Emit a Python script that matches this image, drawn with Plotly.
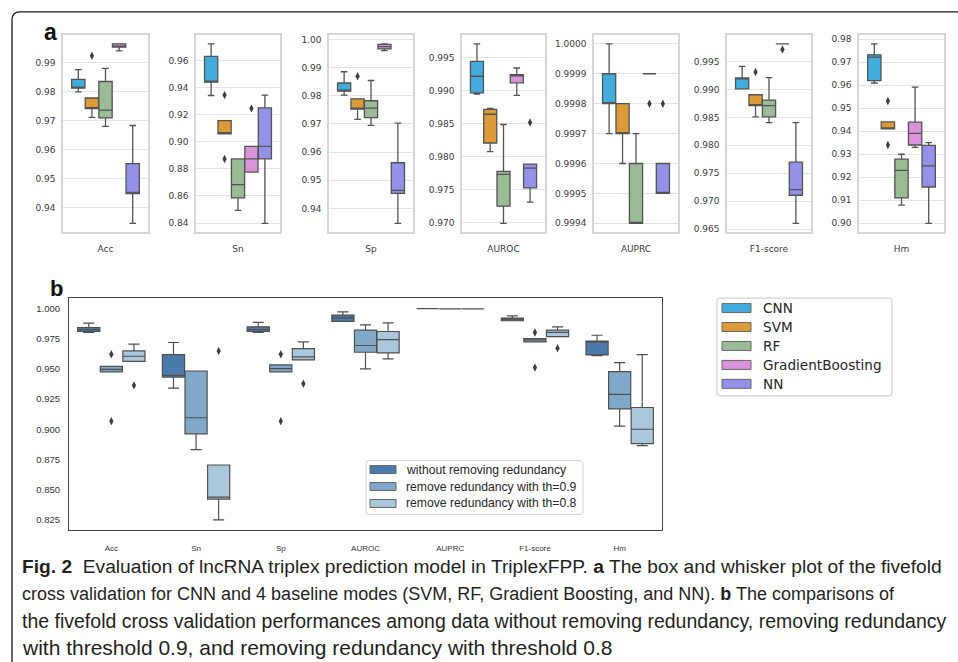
import plotly.graph_objects as go

W, H = 958, 662

metrics = ["Acc", "Sn", "Sp", "AUROC", "AUPRC", "F1-score", "Hm"]
models = ["CNN", "SVM", "RF", "GradientBoosting", "NN"]

# ---- panel a: five-number summaries [lower whisker, q1, median, q3, upper whisker] per metric
cnn_stats = [[0.9800, 0.9813, 0.9816, 0.9843, 0.9877],
             [0.9341, 0.9439, 0.9445, 0.9629, 0.9722],
             [0.9802, 0.9816, 0.9820, 0.9845, 0.9885],
             [0.98945, 0.98965, 0.99215, 0.9944, 0.99705],
             [0.9997, 0.9998, 0.9998, 0.9999, 1.0000],
             [0.9901, 0.9901, 0.9920, 0.99205, 0.9941],
             [0.9610, 0.9620, 0.9722, 0.97325, 0.9780]]
cnn_out = [[], [], [], [], [], [], []]

svm_stats = [[0.9712, 0.9742, 0.9746, 0.9779, 0.9779],
             [0.9059, 0.9059, 0.9060, 0.9156, 0.9156],
             [0.9716, 0.9752, 0.9756, 0.9789, 0.9789],
             [0.98075, 0.98205, 0.9864, 0.98715, 0.9873],
             [0.9996, 0.9997, 0.9997, 0.9998, 0.9998],
             [0.98508, 0.98709, 0.9872, 0.98904, 0.98904],
             [0.94107, 0.94107, 0.9415, 0.94409, 0.94409]]
svm_out = [[0.9925], [0.9344, 0.8873], [0.9869], [], [], [0.99311], [0.95314, 0.93404]]

rf_stats = [[0.9681, 0.9710, 0.9737, 0.9836, 0.9881],
            [0.8493, 0.8585, 0.8683, 0.8873, 0.8873],
            [0.9695, 0.9722, 0.9756, 0.9782, 0.9854],
            [0.9699, 0.9725, 0.9773, 0.97775, 0.98485],
            [0.9994, 0.9994, 0.9994, 0.9996, 0.9997],
            [0.98407, 0.98508, 0.98709, 0.98809, 0.99211],
            [0.9079, 0.91105, 0.92298, 0.92786, 0.93002]]
rf_out = [[], [], [], [], [], [], []]

gb_stats = [[0.9942, 0.9955, 0.9958, 0.9966, 0.9966],
            [0.8776, 0.8776, 0.8873, 0.8966, 0.8966],
            [0.9960, 0.9966, 0.9974, 0.9982, 0.9984],
            [0.98925, 0.99115, 0.9922, 0.9924, 0.9934],
            [0.9999, 0.9999, 0.9999, 0.9999, 0.9999],
            [0.99813, 0.99813, 0.99813, 0.99813, 0.99813],
            [0.93303, 0.93404, 0.93906, 0.94395, 0.95917]]
gb_out = [[], [0.9246], [], [], [0.9998], [0.99713], []]

nn_stats = [[0.9346, 0.9449, 0.9453, 0.9552, 0.9684],
            [0.8398, 0.8873, 0.8966, 0.9249, 0.9344],
            [0.9347, 0.9453, 0.9464, 0.9562, 0.9703],
            [0.9731, 0.97525, 0.97825, 0.97885, 0.97885],
            [0.9995, 0.9995, 0.9995, 0.9996, 0.9996],
            [0.96606, 0.97108, 0.97209, 0.97699, 0.98407],
            [0.9000, 0.91579, 0.92499, 0.93389, 0.93504]]
nn_out = [[], [], [], [0.98515], [0.9998], [], []]

# ---- panel b: CNN with / without redundancy removal
b_sets = ["without removing redundancy", "remove redundancy with th=0.9", "remove redundancy with th=0.8"]
full_stats = [[0.9801, 0.9809, 0.9825, 0.9842, 0.9878],
              [0.9341, 0.9432, 0.9445, 0.9618, 0.9718],
              [0.9801, 0.9809, 0.9825, 0.9848, 0.9884],
              [0.9892, 0.9892, 0.9922, 0.9945, 0.9972],
              [0.9998, 0.9998, 0.9998, 0.9998, 0.9998],
              [0.9898, 0.9898, 0.9920, 0.9920, 0.9939],
              [0.9610, 0.9615, 0.9722, 0.9729, 0.9778]]
full_out = [[], [], [], [], [], [], []]
th09_stats = [[0.9474, 0.9474, 0.9496, 0.9521, 0.9521],
              [0.8831, 0.8962, 0.9095, 0.9482, 0.9482],
              [0.9474, 0.9474, 0.9502, 0.9532, 0.9532],
              [0.9499, 0.9637, 0.9693, 0.9820, 0.9864],
              [0.9997, 0.9997, 0.9997, 0.9997, 0.9997],
              [0.9723, 0.9723, 0.9740, 0.9751, 0.9751],
              [0.9025, 0.9169, 0.9288, 0.9477, 0.9551]]
th09_out = [[0.9621, 0.9067], [], [0.9621, 0.9067], [], [], [0.9801, 0.9510], []]
th08_stats = [[0.9562, 0.9562, 0.9604, 0.9648, 0.9704],
              [0.8250, 0.8422, 0.8438, 0.8704, 0.8704],
              [0.9574, 0.9574, 0.9599, 0.9668, 0.9723],
              [0.9582, 0.9632, 0.9742, 0.9809, 0.9881],
              [0.9997, 0.9997, 0.9997, 0.9997, 0.9997],
              [0.9767, 0.9767, 0.9801, 0.9820, 0.9848],
              [0.8865, 0.8881, 0.9000, 0.9180, 0.9618]]
th08_out = [[0.9363], [0.9648], [0.9377], [], [], [0.9670], []]

# ---- panel a tick settings
a_tick0 = [0.94, 0.84, 0.94, 0.970, 0.9994, 0.965, 0.90]
a_dtick = [0.01, 0.02, 0.01, 0.005, 0.0001, 0.005, 0.01]
a_fmt = [".2f", ".2f", ".2f", ".3f", ".4f", ".3f", ".2f"]

# ---- styles
a_colors = ["#42ACDD", "#DC9B38", "#9BBA96", "#DA92DB", "#9591E8"]
b_colors = ["#4A7BAA", "#7FA8C9", "#AAC7DB"]
edge = "#535353"
a_boxes_px = [(63, 148), (196, 280), (329, 413), (462, 545), (594, 678), (727, 811), (859, 944)]
a_top, a_bot = 35, 233
b_box = (69, 662, 299, 532)


def px(x):
    return x / W


def py(y):
    return 1 - y / H


def padded(vals):
    lo, hi = min(vals), max(vals)
    d = (hi - lo) * 0.05
    return [lo - d, hi + d]


fig = go.Figure()
layout = dict()

a_all_stats = [cnn_stats, svm_stats, rf_stats, gb_stats, nn_stats]
a_all_out = [cnn_out, svm_out, rf_out, gb_out, nn_out]
na = len(models)
bw = 0.8 / na

for m, metric in enumerate(metrics):
    ax = m + 1
    xs = "x" if ax == 1 else f"x{ax}"
    ys = "y" if ax == 1 else f"y{ax}"
    vals = []
    for k in range(na):
        s = a_all_stats[k][m]
        pos = -0.4 + bw * (k + 0.5)
        vals += s + a_all_out[k][m]
        fig.add_trace(go.Box(x=[pos], lowerfence=[s[0]], q1=[s[1]], median=[s[2]], q3=[s[3]],
                             upperfence=[s[4]], width=bw * 0.98, fillcolor=a_colors[k],
                             line=dict(color=edge, width=1.3), whiskerwidth=0.5,
                             boxpoints=False, name=models[k], showlegend=False,
                             xaxis=xs, yaxis=ys))
        if a_all_out[k][m]:
            fig.add_trace(go.Scatter(x=[pos] * len(a_all_out[k][m]), y=a_all_out[k][m], mode="markers",
                                     marker=dict(symbol="diamond-tall", size=6, color="#3d3d3d"),
                                     showlegend=False, xaxis=xs, yaxis=ys))
    x0, x1 = a_boxes_px[m]
    kx = "xaxis" if ax == 1 else f"xaxis{ax}"
    ky = "yaxis" if ax == 1 else f"yaxis{ax}"
    layout[kx] = dict(domain=[px(x0), px(x1)], range=[-0.5, 0.5], anchor=ys,
                      tickvals=[0], ticktext=[metric], showgrid=False, zeroline=False,
                      showline=True, mirror=True, linecolor="#d6d6d6", linewidth=1.5,
                      ticks="", ticklabelstandoff=7,
                      tickfont=dict(family="DejaVu Sans", size=9, color="#3a3a3a"))
    layout[ky] = dict(domain=[py(a_bot), py(a_top)], range=padded(vals), anchor=xs,
                      tick0=a_tick0[m], dtick=a_dtick[m], tickformat=a_fmt[m],
                      showgrid=True, gridcolor="#e4e4e4", gridwidth=1.2, zeroline=False,
                      showline=True, mirror=True, linecolor="#d6d6d6", linewidth=1.5,
                      ticks="", ticklabelstandoff=4,
                      tickfont=dict(family="DejaVu Sans", size=9, color="#3a3a3a"))

# ---- panel b
b_all_stats = [full_stats, th09_stats, th08_stats]
b_all_out = [full_out, th09_out, th08_out]
nb = len(b_sets)
bwb = 0.8 / nb
bvals = []
for m, metric in enumerate(metrics):
    for k in range(nb):
        s = b_all_stats[k][m]
        pos = m - 0.4 + bwb * (k + 0.5)
        bvals += s + b_all_out[k][m]
        fig.add_trace(go.Box(x=[pos], lowerfence=[s[0]], q1=[s[1]], median=[s[2]], q3=[s[3]],
                             upperfence=[s[4]], width=bwb * 0.98, fillcolor=b_colors[k],
                             line=dict(color="#4f4f4f", width=1.2), whiskerwidth=0.5,
                             boxpoints=False, name=b_sets[k], showlegend=False,
                             xaxis="x8", yaxis="y8"))
        if b_all_out[k][m]:
            fig.add_trace(go.Scatter(x=[pos] * len(b_all_out[k][m]), y=b_all_out[k][m], mode="markers",
                                     marker=dict(symbol="diamond-tall", size=6, color="#3d3d3d"),
                                     showlegend=False, xaxis="x8", yaxis="y8"))

bx0, bx1, by0, by1 = b_box
layout["xaxis8"] = dict(domain=[px(bx0), px(bx1)], range=[-0.5, len(metrics) - 0.5], anchor="y8",
                        tickvals=list(range(len(metrics))), ticktext=metrics, showgrid=False,
                        zeroline=False, showline=True, mirror=True, linecolor="#444444", linewidth=1.2,
                        ticks="", ticklabelstandoff=10,
                        tickfont=dict(family="Liberation Sans, Arial", size=8, color="#333333"))
layout["yaxis8"] = dict(domain=[py(by1), py(by0)], range=padded(bvals), anchor="x8",
                        tick0=0.825, dtick=0.025, tickformat=".3f", showgrid=False, zeroline=False,
                        showline=True, mirror=True, linecolor="#444444", linewidth=1.2,
                        ticks="", ticklabelstandoff=6,
                        tickfont=dict(family="Liberation Sans, Arial", size=9.5, color="#333333"))

shapes = []
annotations = []

# outer rounded frame (top + left)
r = 8
fx, fy = 12, 12
shapes.append(dict(type="path", xref="paper", yref="paper",
                   path=f"M {px(fx)},{py(H + 2)} L {px(fx)},{py(fy + r)} Q {px(fx)},{py(fy)} {px(fx + r)},{py(fy)} L {px(W + 2)},{py(fy)}",
                   line=dict(color="#1a1a1a", width=1.3)))

# panel letters
annotations.append(dict(x=px(42), y=py(32), text="<b>a</b>", showarrow=False, xref="paper", yref="paper",
                        yanchor="middle",
                        font=dict(family="Liberation Sans, Arial", size=23, color="#111111")))
annotations.append(dict(x=px(47.5), y=py(289), text="<b>b</b>", showarrow=False, xref="paper", yref="paper",
                        yanchor="middle",
                        font=dict(family="Liberation Sans, Arial", size=22, color="#111111")))


def rounded_rect(x0, y0, x1, y1, rr):
    return (f"M {px(x0 + rr)},{py(y0)} L {px(x1 - rr)},{py(y0)} Q {px(x1)},{py(y0)} {px(x1)},{py(y0 + rr)} "
            f"L {px(x1)},{py(y1 - rr)} Q {px(x1)},{py(y1)} {px(x1 - rr)},{py(y1)} "
            f"L {px(x0 + rr)},{py(y1)} Q {px(x0)},{py(y1)} {px(x0)},{py(y1 - rr)} "
            f"L {px(x0)},{py(y0 + rr)} Q {px(x0)},{py(y0)} {px(x0 + rr)},{py(y0)} Z")


# legend for panel a models
shapes.append(dict(type="path", xref="paper", yref="paper", path=rounded_rect(717, 299, 892, 397, 3),
                   line=dict(color="#d4d4d4", width=1.2), fillcolor="white"))
for k, name in enumerate(models):
    yc = 309 + k * 19
    shapes.append(dict(type="rect", xref="paper", yref="paper", x0=px(722), x1=px(751),
                       y0=py(yc + 4.5), y1=py(yc - 4.5), fillcolor=a_colors[k],
                       line=dict(color="#666666", width=1)))
    annotations.append(dict(x=px(761), y=py(yc), text=name, showarrow=False, xref="paper", yref="paper",
                            xanchor="left", yanchor="middle",
                            font=dict(family="DejaVu Sans", size=13.6, color="#262626")))

# legend for panel b sets
shapes.append(dict(type="path", xref="paper", yref="paper", path=rounded_rect(366, 462, 583, 516, 3),
                   line=dict(color="#d4d4d4", width=1), fillcolor="white"))
for k, name in enumerate(b_sets):
    yc = 471 + k * 17
    shapes.append(dict(type="rect", xref="paper", yref="paper", x0=px(370), x1=px(396),
                       y0=py(yc + 4), y1=py(yc - 4), fillcolor=b_colors[k],
                       line=dict(color="#666666", width=1)))
    annotations.append(dict(x=px(404), y=py(yc), text=name, showarrow=False, xref="paper", yref="paper",
                            xanchor="left", yanchor="middle",
                            font=dict(family="Liberation Sans, Arial", size=12.2, color="#262626")))

# caption
caption = [
    "<b>Fig. 2</b>&nbsp; Evaluation of lncRNA triplex prediction model in TriplexFPP. <b>a</b> The box and whisker plot of the fivefold",
    "cross validation for CNN and 4 baseline modes (SVM, RF, Gradient Boosting, and NN). <b>b</b> The comparisons of",
    "the fivefold cross validation performances among data without removing redundancy, removing redundancy",
    "with threshold 0.9, and removing redundancy with threshold 0.8",
]
cap_sizes = [19.2, 18.0, 19.5, 21.0]
for i, line in enumerate(caption):
    annotations.append(dict(x=px(20), y=py(568 + i * 27.3), text=line, showarrow=False, xref="paper",
                            yref="paper", xanchor="left", yanchor="middle",
                            font=dict(family="Liberation Sans, Arial", size=cap_sizes[i], color="#231f20")))

fig.update_layout(width=W, height=H, autosize=False, margin=dict(l=0, r=0, t=0, b=0),
                  paper_bgcolor="white", plot_bgcolor="white", showlegend=False,
                  shapes=shapes, annotations=annotations, **layout)

fig.write_html("out.html")
